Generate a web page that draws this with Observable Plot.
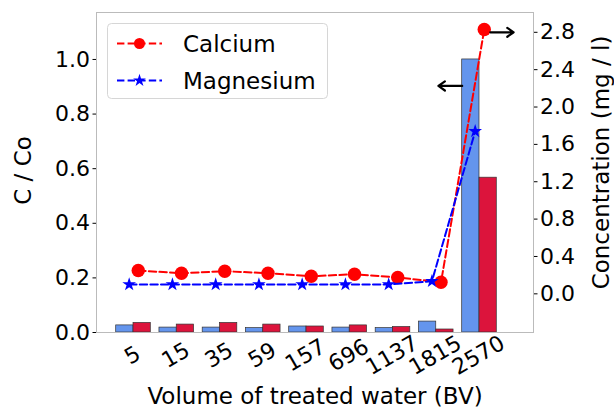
<!DOCTYPE html>
<html><head><meta charset="utf-8">
<script src="https://cdn.jsdelivr.net/npm/d3@7"></script>
<script src="https://cdn.jsdelivr.net/npm/@observablehq/plot@0.6"></script>
<style>
body{margin:0;background:#fff;}
#wrap{position:relative;width:614px;height:409px;font-family:"DejaVu Sans";color:#000;}
#wrap svg{position:absolute;left:0;top:0;}
</style></head><body><div id="wrap"></div>
<script>
// ---- data ----
const categories = ["5","15","35","59","157","696","1137","1815","2570"];
const barMagnesium = [0.026,0.018,0.018,0.016,0.022,0.018,0.016,0.040,1.0];   // C/Co (left axis)
const barCalcium   = [0.035,0.029,0.035,0.029,0.022,0.026,0.020,0.011,0.567]; // C/Co (left axis)
const calcium   = [0.249,0.221,0.242,0.221,0.188,0.210,0.175,0.124,2.83];     // mg/l (right axis)
const magnesium = [0.10,0.10,0.10,0.10,0.10,0.10,0.10,0.135,1.74];            // mg/l (right axis)
const leftTicks  = [0,0.2,0.4,0.6,0.8,1.0];
const rightTicks = [0,0.4,0.8,1.2,1.6,2.0,2.4,2.8];
const seriesNames = ["Calcium","Magnesium"];
const xTitle = "Volume of treated water (BV)";
const yLeftTitle = "C / Co";
const yRightTitle = "Concentration (mg / l)";
// annotation arrows (index units / axis value)
const leftArrow  = [{x1:7.6, x2:7.05, y:0.903}];
const rightArrow = [{x1:8.25, x2:8.79, y:2.80}];

const FONT = "DejaVu Sans";
const common = {
  width:614, height:409, marginLeft:96, marginRight:81, marginTop:12, marginBottom:77,
  x:{domain:[-0.8555, 9.2486], axis:null},
  style:{fontFamily:FONT, fontSize:"22px", background:"transparent", overflow:"visible", color:"#000"}
};
const idx = categories.map((c,i)=>i);

const p1 = Plot.plot({
  ...common,
  y:{domain:[0,1.172], axis:null},
  marks:[
    Plot.rectY(idx, {x1:i=>i-0.4, x2:i=>i, y:i=>barMagnesium[i], fill:"#6495ED", stroke:"#333", strokeWidth:0.7, insetLeft:0, insetRight:0}),
    Plot.rectY(idx, {x1:i=>i, x2:i=>i+0.4, y:i=>barCalcium[i], fill:"#DC143C", stroke:"#333", strokeWidth:0.7, insetLeft:0, insetRight:0}),
    Plot.axisY({anchor:"left", ticks:leftTicks, tickFormat:d3.format(".1f"), tickSize:3.5, tickPadding:3, label:null, fontSize:22}),
    Plot.text(categories, {x:(d,i)=>i, frameAnchor:"bottom", dy:23, dx:-1, rotate:-30, fontSize:22, textAnchor:"middle", lineAnchor:"middle"}),
    Plot.text([xTitle], {frameAnchor:"bottom", dy:64, fontSize:23, textAnchor:"middle", lineAnchor:"middle"}),
    Plot.text([yLeftTitle], {frameAnchor:"left", dx:-73, dy:-2, rotate:-90, fontSize:23, textAnchor:"middle", lineAnchor:"middle"}),
    Plot.arrow(leftArrow, {x1:"x1", x2:"x2", y1:"y", y2:"y", stroke:"#000", strokeWidth:2.2, headLength:6, headAngle:70}),
    Plot.frame({stroke:"#bbb"})
  ]
});

const p2 = Plot.plot({
  ...common,
  y:{domain:[-0.414, 3.012], axis:null},
  marks:[
    Plot.line(calcium, {x:(d,i)=>i+0.11, y:d=>d, stroke:"#ff0000", strokeWidth:2, strokeDasharray:"7.4,3.2"}),
    Plot.dot(calcium, {x:(d,i)=>i+0.11, y:d=>d, r:6.7, fill:"#ff0000"}),
    Plot.line(magnesium, {x:(d,i)=>i-0.1, y:d=>d, stroke:"#0000ff", strokeWidth:2, strokeDasharray:"7.4,3.2"}),
    Plot.dot(magnesium, {x:(d,i)=>i-0.1, y:d=>d, r:4.3, symbol:"star", fill:"#0000ff"}),
    Plot.axisY({anchor:"right", ticks:rightTicks, tickFormat:d3.format(".1f"), tickSize:3.5, tickPadding:3, label:null, fontSize:22}),
    Plot.text([yRightTitle], {frameAnchor:"right", dx:68, dy:-10, rotate:-90, fontSize:23, textAnchor:"middle", lineAnchor:"middle"}),
    Plot.arrow(rightArrow, {x1:"x1", x2:"x2", y1:"y", y2:"y", stroke:"#000", strokeWidth:2.2, headLength:6, headAngle:70})
  ]
});

const wrap = document.getElementById("wrap");
wrap.appendChild(p1);
wrap.appendChild(p2);

// legend
const leg = d3.select(wrap).append("svg").attr("width",614).attr("height",409).style("font-family",FONT);
leg.append("rect").attr("x",107.5).attr("y",23.5).attr("width",220).attr("height",75).attr("rx",4)
  .attr("fill","rgba(255,255,255,0.8)").attr("stroke","#d6d6d6");
const rows = [{name:seriesNames[0], color:"#ff0000", sym:d3.symbolCircle, size:Math.PI*5.5*5.5, y:43.5},
              {name:seriesNames[1], color:"#0000ff", sym:d3.symbolStar, size:Math.PI*4.0*4.0, y:80.5}];
rows.forEach(r=>{
  leg.append("line").attr("x1",117).attr("x2",162).attr("y1",r.y).attr("y2",r.y)
    .attr("stroke",r.color).attr("stroke-width",2).attr("stroke-dasharray","7.4,3.2");
  leg.append("path").attr("d",d3.symbol(r.sym,r.size)()).attr("transform",`translate(139.5,${r.y})`).attr("fill",r.color);
  leg.append("text").attr("x",183).attr("y",r.y).attr("dy","0.35em").attr("font-size",23).attr("fill","#000").text(r.name);
});
</script></body></html>
